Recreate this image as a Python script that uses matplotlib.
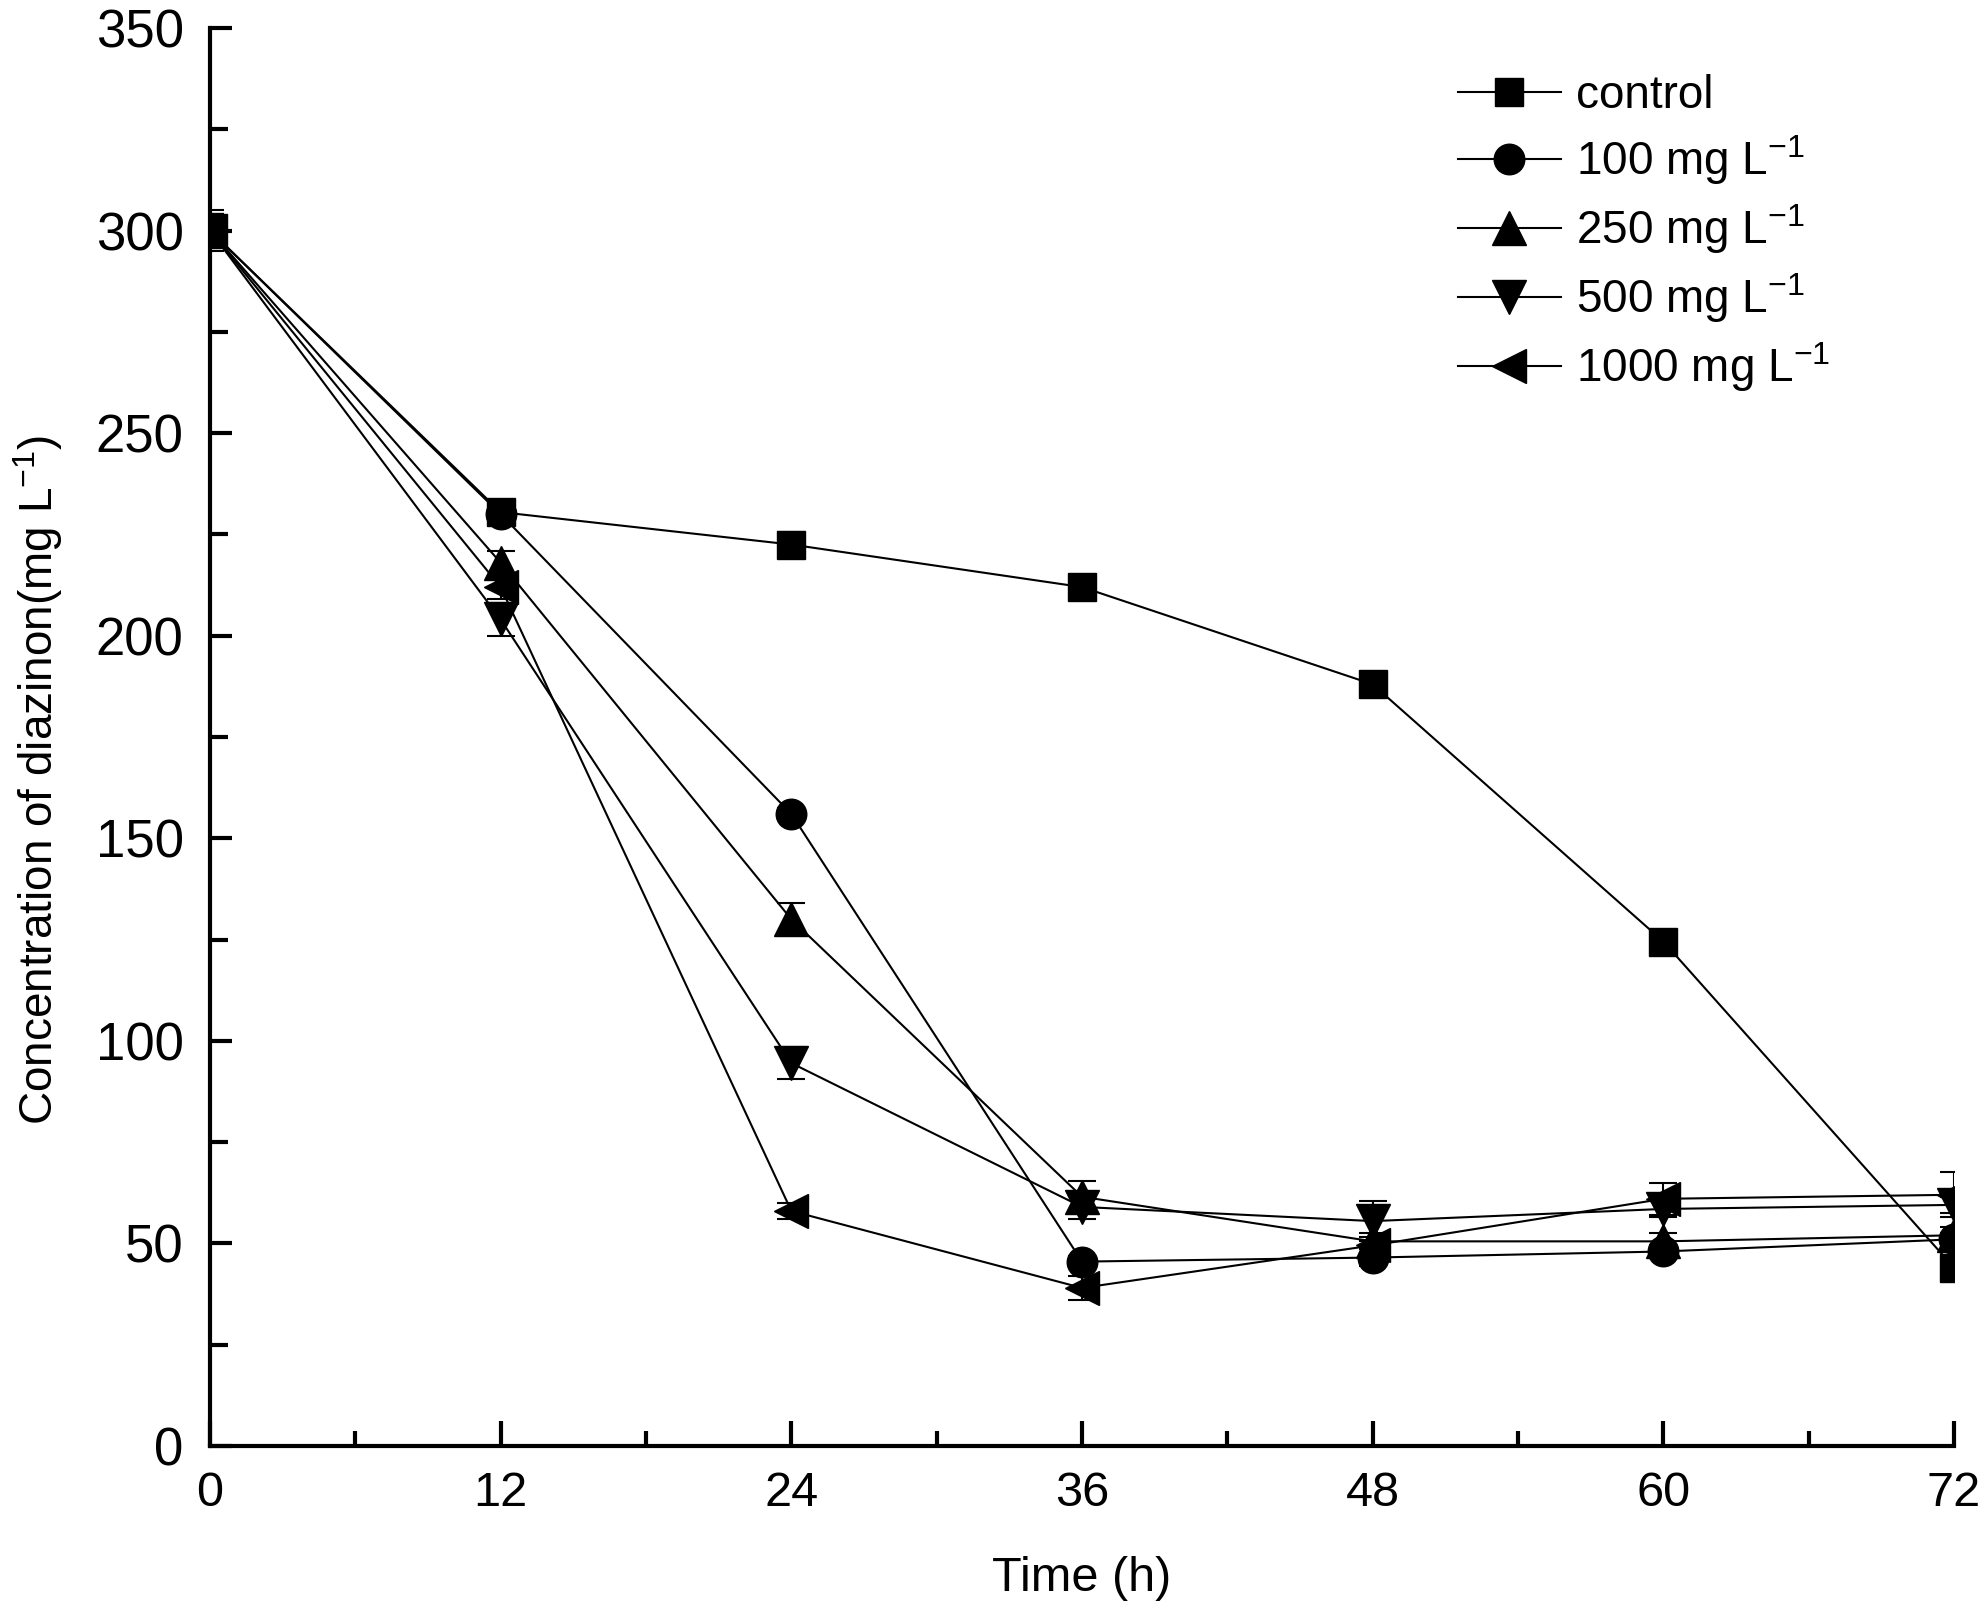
import matplotlib
matplotlib.use("Agg")
import matplotlib.pyplot as plt
from matplotlib.ticker import MultipleLocator

plt.rcParams["font.family"] = ["Liberation Sans", "DejaVu Sans"]
plt.rcParams["mathtext.fontset"] = "custom"
plt.rcParams["mathtext.rm"] = "Liberation Sans"
plt.rcParams["mathtext.default"] = "regular"

# === Dati ===
time_h = [0, 12, 24, 36, 48, 60, 72]

control = [300, 230.5, 222.5, 212, 188, 124.5, 44]
c100 = [300, 230, 156, 45.5, 46.5, 48, 51]
c250 = [300, 218, 130, 61.5, 50.5, 50.5, 52]
c500 = [300, 204, 94.5, 59, 55.5, 58.5, 59.5]
c1000 = [300, 212, 58, 39, 49.5, 61, 62]

err_control = [5, 2, 3, 1.5, 1.5, 1.5, 1.5]
err_100 = [4, 1.5, 1.5, 1.5, 2, 1.5, 1.5]
err_250 = [4, 3, 4, 4, 2, 2, 2]
err_500 = [4, 4, 4, 3, 5, 2, 2]
err_1000 = [4, 3, 2, 3, 2, 4, 5.5]

labels = ["control", "100 mg L$^{-1}$", "250 mg L$^{-1}$",
          "500 mg L$^{-1}$", "1000 mg L$^{-1}$"]
series = [control, c100, c250, c500, c1000]
errors = [err_control, err_100, err_250, err_500, err_1000]
markers = ["s", "o", "^", "v", "<"]
msizes = [20, 22, 24, 24, 24]

# === Grafico ===
fig = plt.figure(figsize=(19.83, 16.10), dpi=100)
ax = fig.add_axes([0.1059, 0.1019, 0.8795, 0.8807])

for y, e, m, ms, lab in zip(series, errors, markers, msizes, labels):
    ax.errorbar(time_h, y, yerr=e, fmt="none", ecolor="black",
                elinewidth=1.5, capsize=10, capthick=1.5)
    ax.plot(time_h, y, color="black", linewidth=1.5, marker=m,
            markersize=ms, markerfacecolor="black",
            markeredgecolor="black", label=lab)

ax.set_xlim(0, 72)
ax.set_ylim(0, 350)
ax.xaxis.set_major_locator(MultipleLocator(12))
ax.xaxis.set_minor_locator(MultipleLocator(6))
ax.yaxis.set_major_locator(MultipleLocator(50))
ax.yaxis.set_minor_locator(MultipleLocator(25))

for side in ["top", "right"]:
    ax.spines[side].set_visible(False)
for side in ["left", "bottom"]:
    ax.spines[side].set_linewidth(3)

ax.tick_params(axis="x", which="major", direction="in", length=18, width=3,
               pad=18, labelsize=35)
ax.tick_params(axis="x", which="minor", direction="in", length=11, width=3)
ax.tick_params(axis="y", which="major", direction="in", length=16, width=3,
               pad=19, labelsize=38)
ax.tick_params(axis="y", which="minor", direction="in", length=13, width=3)

ax.set_xlabel("Time (h)", fontsize=35, va="center")
ax.set_ylabel("Concentration of diazinon(mg L$^{-1}$)", fontsize=33, va="center")
ax.xaxis.set_label_coords(0.5, -0.0938)
ax.yaxis.set_label_coords(-0.0985, 0.47)

fig.legend(loc="upper left", bbox_to_anchor=(0.735, 0.954), frameon=False,
           fontsize=33, handlelength=2.25, handletextpad=0.33,
           labelspacing=0.33, borderpad=0, borderaxespad=0)

fig.savefig("out.png", dpi=100)
plt.close(fig)
